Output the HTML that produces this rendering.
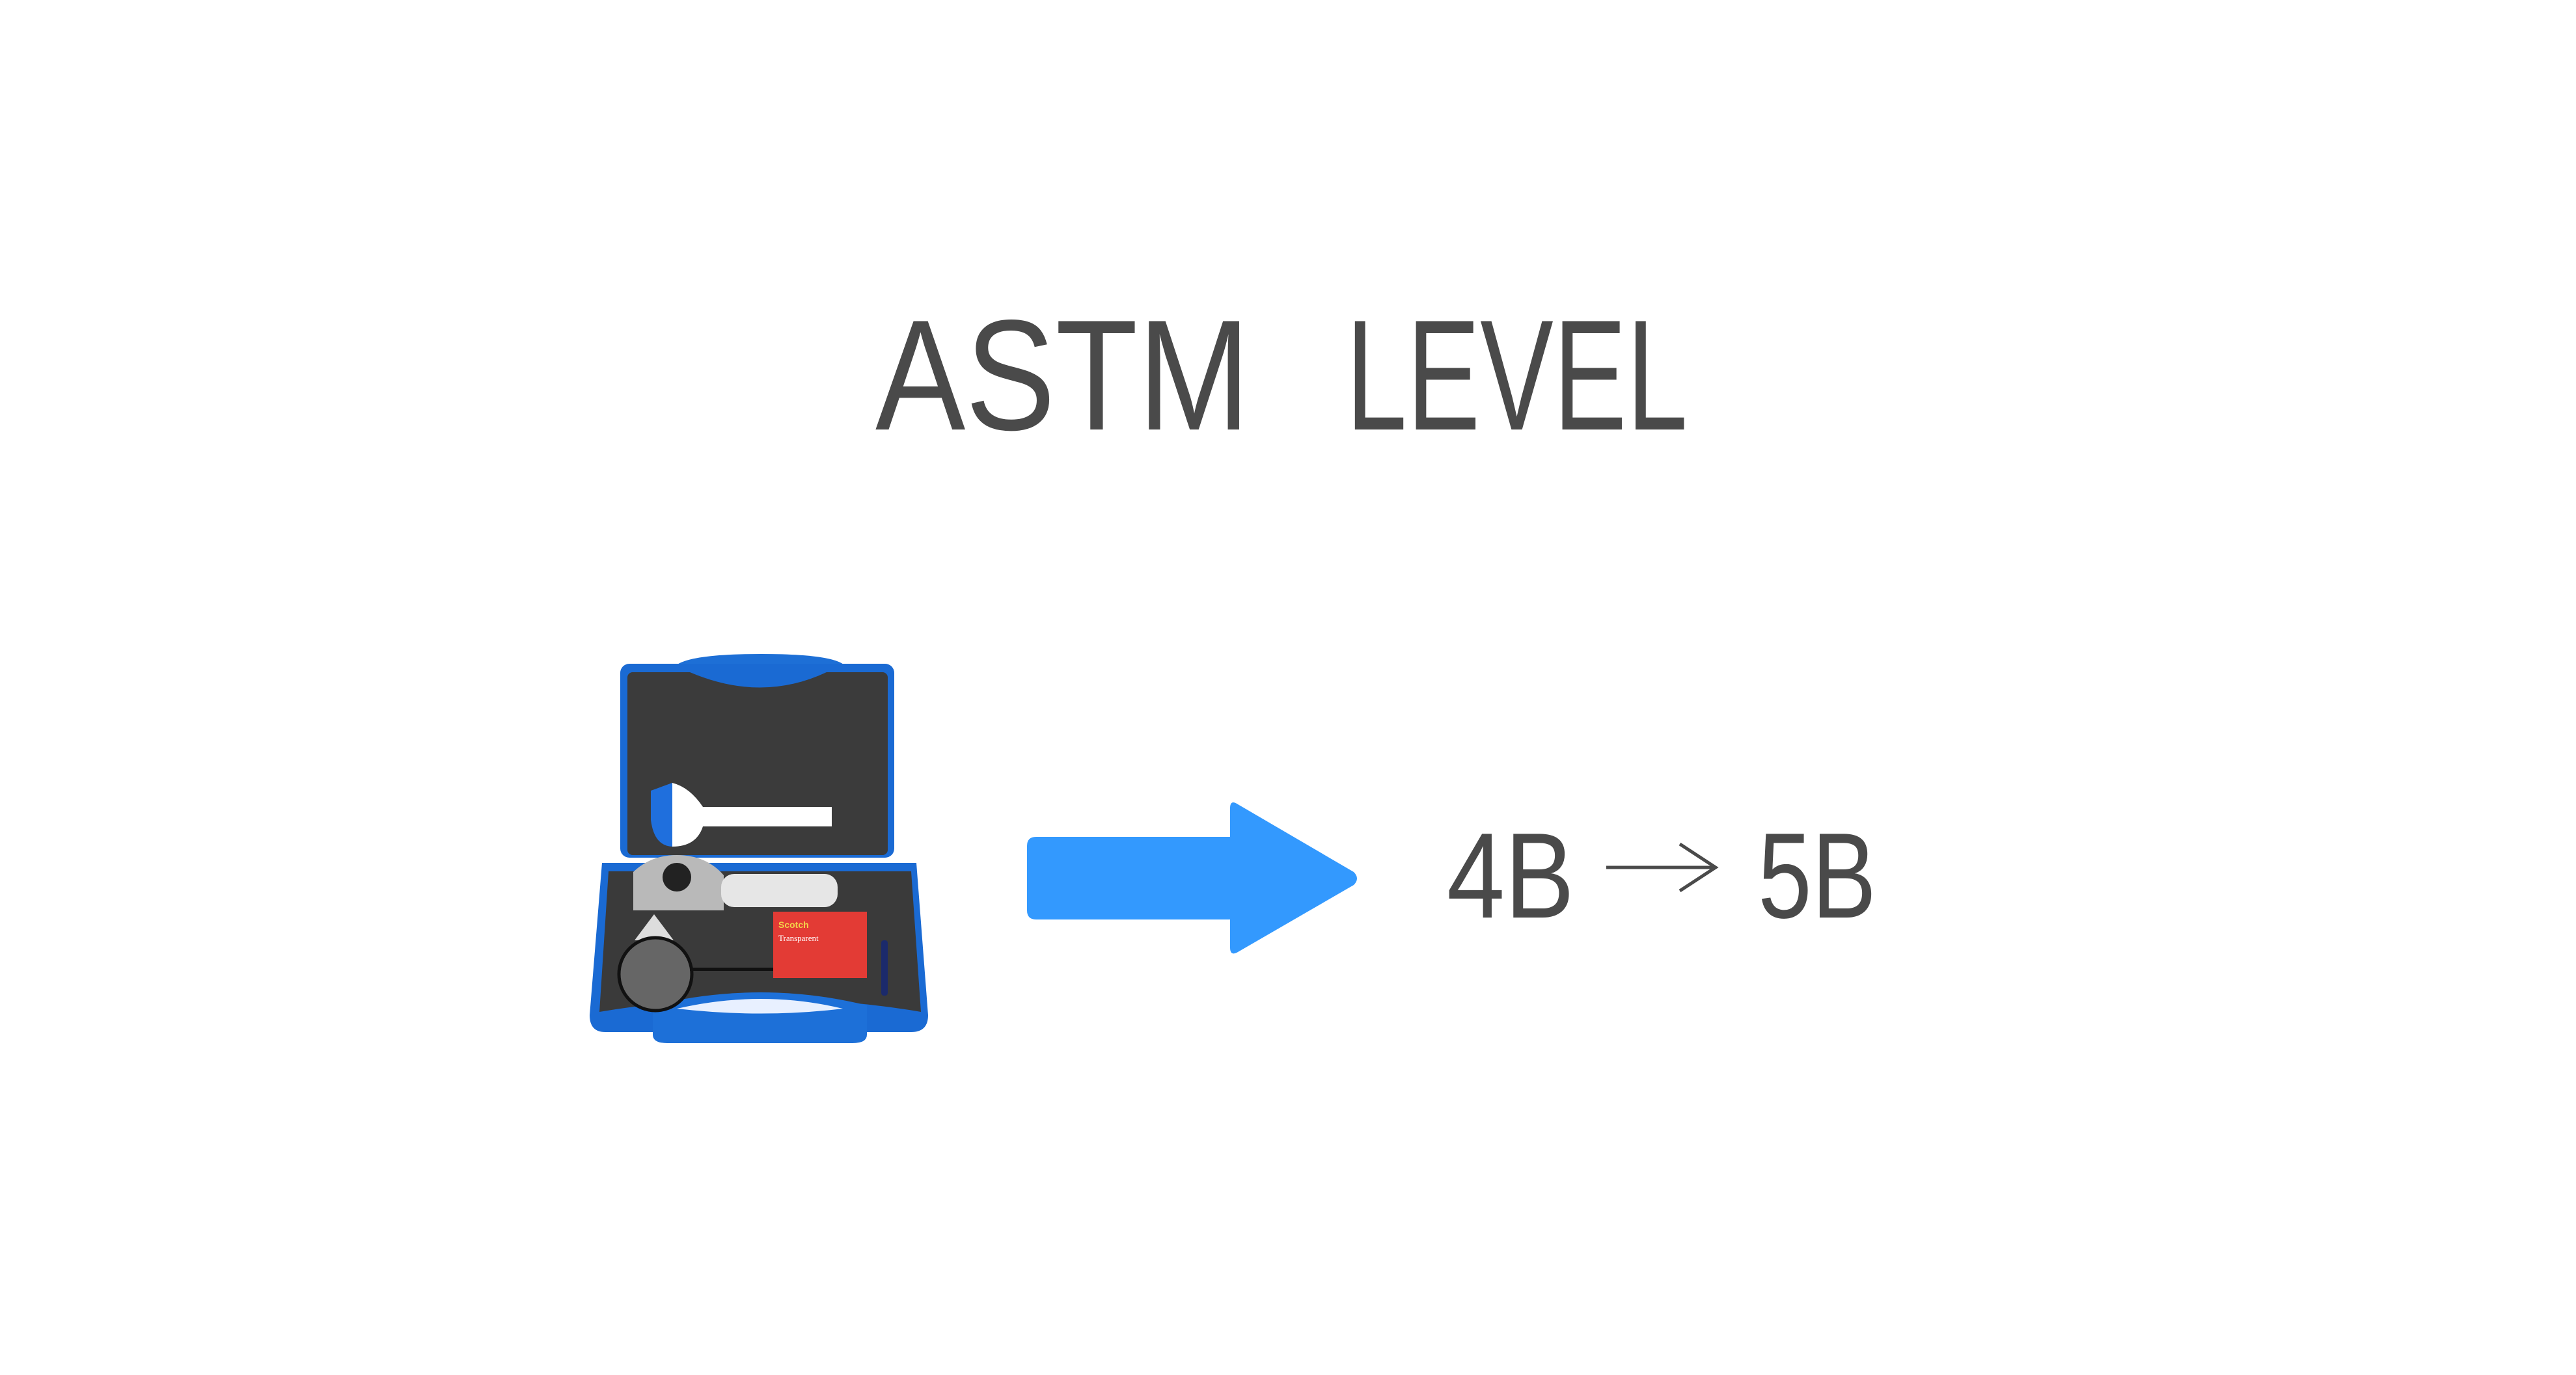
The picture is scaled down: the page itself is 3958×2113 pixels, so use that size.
<!DOCTYPE html>
<html><head><meta charset="utf-8"><style>
html,body{margin:0;padding:0;background:#fff;}
svg{display:block;}
</style></head><body>
<svg width="3958" height="2113" viewBox="0 0 3958 2113" xmlns="http://www.w3.org/2000/svg">
<rect width="3958" height="2113" fill="#fff"/>
<text x="1345" y="660" font-family="Liberation Sans, sans-serif" font-size="242" fill="#4a4a4a" textLength="576" lengthAdjust="spacingAndGlyphs">ASTM</text>
<text x="2068" y="660" font-family="Liberation Sans, sans-serif" font-size="242" fill="#4a4a4a" textLength="525" lengthAdjust="spacingAndGlyphs">LEVEL</text>

<!-- case -->
<g>
  <path d="M1033 1030 Q1040 1005 1170 1005 Q1300 1005 1302 1030 L1302 1062 L1033 1062Z" fill="#1d6fd6"/>
  <rect x="953" y="1020" width="421" height="298" rx="14" fill="#1a6ad3"/>
  <rect x="964" y="1033" width="400" height="281" rx="8" fill="#3b3b3b"/>
  <path d="M1060 1033 Q1170 1080 1270 1033Z" fill="#1a6ad3"/>
  <path d="M1033 1203 Q1060 1210 1080 1240 L1278 1240 L1278 1270 L1080 1270 Q1070 1301 1033 1301Z" fill="#fff"/>
  <path d="M1000 1215 Q1033 1203 1033 1203 L1033 1301 Q1005 1300 1000 1260Z" fill="#1f6fdd"/>
  <path d="M925 1326 L1408 1326 L1426 1560 Q1426 1586 1400 1586 L930 1586 Q906 1586 906 1560Z" fill="#1a6ad3"/>
  <path d="M935 1339 L1400 1339 L1415 1555 Q1300 1535 1170 1535 Q1040 1535 921 1555Z" fill="#3a3a3a"/>
  <path d="M1003 1545 Q1170 1505 1332 1545 L1332 1590 Q1332 1603 1310 1603 L1025 1603 Q1003 1603 1003 1590Z" fill="#1d70d8"/>
  <path d="M1040 1550 Q1170 1520 1295 1550 Q1170 1565 1040 1550Z" fill="#e8f0ff"/>
  <path d="M973 1399 L973 1340 Q1000 1314 1040 1314 Q1085 1314 1112 1345 L1112 1399Z" fill="#b9b9b9"/>
  <circle cx="1040" cy="1348" r="22" fill="#222"/>
  <rect x="1108" y="1343" width="179" height="51" rx="20" fill="#e6e6e6"/>
  <path d="M975 1445 L1005 1405 L1035 1445Z" fill="#ddd"/>
  <rect x="1188" y="1401" width="144" height="102" fill="#e33b35"/>
  <text x="1196" y="1426" font-family="Liberation Sans, sans-serif" font-size="14" font-weight="bold" fill="#f3d24a">Scotch</text>
  <text x="1196" y="1446" font-family="Liberation Serif, serif" font-size="13" fill="#fff">Transparent</text>
  <circle cx="1007" cy="1497" r="56" fill="#666" stroke="#111" stroke-width="5"/>
  <rect x="1060" y="1487" width="128" height="5" fill="#111"/>
  <rect x="1354" y="1445" width="10" height="85" rx="4" fill="#1b2a6b"/>
</g>

<path d="M1592 1286 L1890 1286 L1890 1242 Q1890 1228 1902 1236 L2080 1340 Q2090 1350 2080 1360 L1902 1463 Q1890 1470 1890 1456 L1890 1413 L1592 1413 Q1578 1413 1578 1399 L1578 1300 Q1578 1286 1592 1286Z" fill="#3399fe"/>

<text x="2223" y="1410" font-family="Liberation Sans, sans-serif" font-size="187" fill="#4a4a4a" textLength="196" lengthAdjust="spacingAndGlyphs">4B</text>
<text x="2701" y="1410" font-family="Liberation Sans, sans-serif" font-size="187" fill="#4a4a4a" textLength="182" lengthAdjust="spacingAndGlyphs">5B</text>
<line x1="2468" y1="1333" x2="2636" y2="1333" stroke="#4a4a4a" stroke-width="5"/>
<polyline points="2581,1297 2636,1333 2581,1369" fill="none" stroke="#4a4a4a" stroke-width="5"/>
</svg>
</body></html>
